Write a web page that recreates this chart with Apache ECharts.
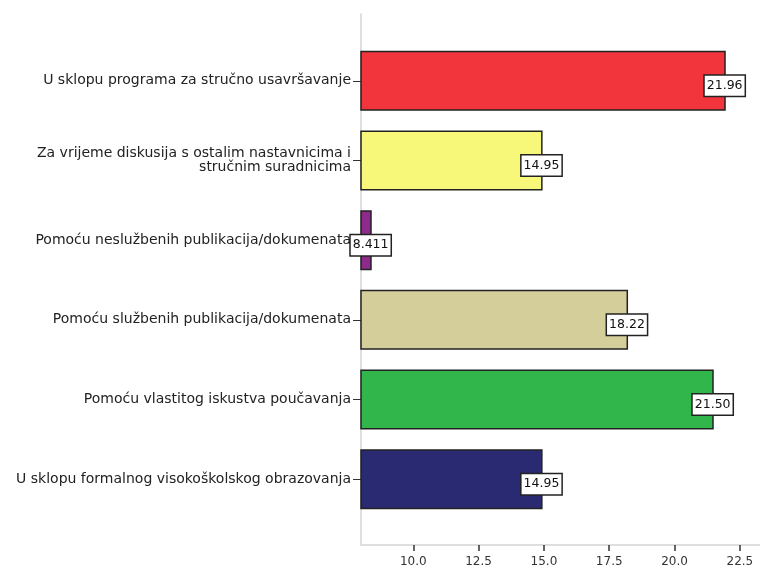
<!DOCTYPE html>
<html>
<head>
<meta charset="utf-8">
<script src="https://cdn.jsdelivr.net/npm/echarts@6/dist/echarts.min.js"></script>
<style>html,body{margin:0;padding:0;background:#fff;}#c{width:760px;height:571px;}</style>
</head>
<body>
<div id="c"></div>
<script>
const categories = [
  'U sklopu programa za stručno usavršavanje',
  'Za vrijeme diskusija s ostalim nastavnicima i\nstručnim suradnicima',
  'Pomoću neslužbenih publikacija/dokumenata',
  'Pomoću službenih publikacija/dokumenata',
  'Pomoću vlastitog iskustva poučavanja',
  'U sklopu formalnog visokoškolskog obrazovanja'
];
const values = [21.96, 14.95, 8.411, 18.22, 21.50, 14.95];
const barColors = ['#f2353d', '#f7f77a', '#8e2a8c', '#d4cf9a', '#31b64b', '#2a2a72'];
const tickValues = [10.0, 12.5, 15.0, 17.5, 20.0, 22.5];
const xMin = 8, xMax = 23.27;

const font = '"DejaVu Sans", sans-serif';
const chart = echarts.init(document.getElementById('c'), null, {renderer: 'canvas'});
chart.setOption({
  animation: false,
  backgroundColor: '#fff',
  grid: [
    {left: 361, right: 0, top: 14, bottom: 26},
    {left: 361, right: 0, top: 41, height: 478}
  ],
  xAxis: [
    {
      gridIndex: 0, type: 'value', min: xMin, max: xMax,
      axisLine: {show: true, lineStyle: {color: '#d4d4d4', width: 1.5}},
      axisTick: {show: true, customValues: tickValues, length: 6, lineStyle: {color: '#333', width: 1.5}},
      axisLabel: {customValues: tickValues, formatter: v => v.toFixed(1), color: '#333', fontSize: 12, fontFamily: font, margin: 11},
      splitLine: {show: false}
    },
    {
      gridIndex: 1, type: 'value', min: xMin, max: xMax, show: false, splitLine: {show: false}
    }
  ],
  yAxis: [
    {
      gridIndex: 0, type: 'value', min: 0, max: 1,
      axisLine: {show: true, lineStyle: {color: '#d4d4d4', width: 1.5}},
      axisTick: {show: false}, axisLabel: {show: false}, splitLine: {show: false}
    },
    {
      gridIndex: 1, type: 'category', inverse: true, data: categories,
      axisLine: {show: false},
      axisTick: {show: true, alignWithLabel: true, length: 8, lineStyle: {color: '#333', width: 1}},
      axisLabel: {color: '#222', fontSize: 14, fontFamily: font, margin: 10, lineHeight: 14, align: 'right'},
      splitLine: {show: false}
    }
  ],
  series: [{
    type: 'bar',
    xAxisIndex: 1, yAxisIndex: 1,
    barWidth: 60,
    data: values.map((v, i) => ({value: v, itemStyle: {color: barColors[i]}})),
    itemStyle: {borderColor: '#222', borderWidth: 1.5},
    label: {
      show: true, position: 'right', distance: 0, offset: [-21, 5],
      formatter: p => p.value.toPrecision(4),
      color: '#111', fontSize: 12.5, fontFamily: font,
      backgroundColor: '#fff', borderColor: '#222', borderWidth: 1.5,
      padding: [4, 2, 3, 2]
    }
  }]
});
</script>
</body>
</html>
